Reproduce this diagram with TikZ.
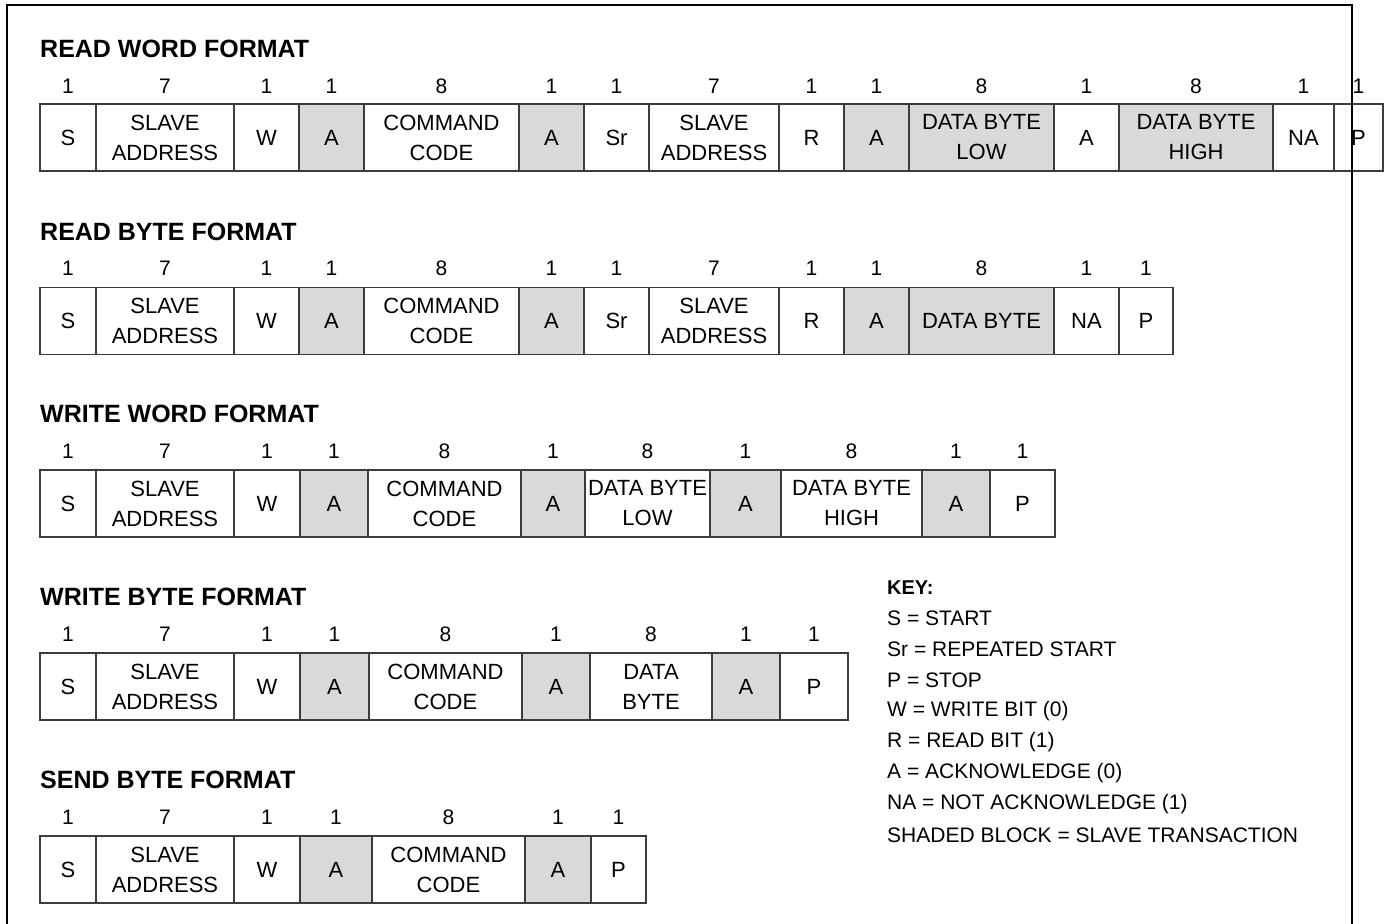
\documentclass[tikz,border=0pt]{standalone}
\usepackage{fontspec}
\setmainfont{Liberation Sans}
\definecolor{shadegray}{RGB}{217,217,217}
\definecolor{cellline}{RGB}{60,60,60}
\tikzset{
  cell/.style={draw=cellline, line width=1.3pt, inner sep=0pt, align=center,
    font=\fontsize{22}{30}\selectfont, minimum height=67pt},
  num/.style={font=\fontsize{21}{24}\selectfont, inner sep=0pt},
  title/.style={font=\bfseries\fontsize{25}{28}\selectfont, anchor=west, inner sep=0pt},
  keytext/.style={font=\fontsize{21}{24}\selectfont, anchor=west, inner sep=0pt},
  frame/.style={line width=2pt, black}
}
\newcommand\cellrow[4]{%
  \foreach \a/\b/\t/\n/\f [count=\i] in {#4} {
    \pgfmathsetmacro\w{\b-\a}
    \pgfmathsetmacro\c{(\a+\b)/2}
    \node[cell, fill=\f, minimum width=\w pt] (#1c\i) at (\c,#2) {\t};
    \node[num] (#1n\i) at (\c,#3) {\n};
  }}
\begin{document}
\begin{tikzpicture}[x=1pt,y=-1pt]
\useasboundingbox (0,0) rectangle (1393,924);
% outer frame (open at the bottom)
\coordinate (fbl) at (7,924);
\coordinate (ftl) at (7,5);
\coordinate (ftr) at (1352,5);
\coordinate (fbr) at (1352,924);
\draw[frame] (fbl) -- (ftl) -- (ftr) -- (fbr);

% READ WORD FORMAT
\node[title] (t1) at (40,49) {READ WORD FORMAT};
\cellrow{a}{137.5}{86}{40/96/S/1/white, 96/234/{SLAVE\\ADDRESS}/7/white, 234/299/W/1/white,
  299/364/A/1/shadegray, 364/519/{COMMAND\\CODE}/8/white, 519/584/A/1/shadegray,
  584/649/Sr/1/white, 649/779/{SLAVE\\ADDRESS}/7/white, 779/844/R/1/white,
  844/909/A/1/shadegray, 909/1054/{DATA BYTE\\LOW}/8/shadegray, 1054/1119/A/1/white,
  1119/1273/{DATA BYTE\\HIGH}/8/shadegray, 1273/1334/NA/1/white, 1334/1383/P/1/white}
\draw[frame] (ftr) -- (fbr);

% READ BYTE FORMAT
\node[title] (t2) at (40,232) {READ BYTE FORMAT};
\cellrow{b}{321}{268}{40/96/S/1/white, 96/234/{SLAVE\\ADDRESS}/7/white, 234/299/W/1/white,
  299/364/A/1/shadegray, 364/519/{COMMAND\\CODE}/8/white, 519/584/A/1/shadegray,
  584/649/Sr/1/white, 649/779/{SLAVE\\ADDRESS}/7/white, 779/844/R/1/white,
  844/909/A/1/shadegray, 909/1054/DATA BYTE/8/shadegray, 1054/1119/NA/1/white,
  1119/1173/P/1/white}

% WRITE WORD FORMAT
\node[title] (t3) at (40,414) {WRITE WORD FORMAT};
\cellrow{c}{503.5}{451}{40/96/S/1/white, 96/234/{SLAVE\\ADDRESS}/7/white, 234/300/W/1/white,
  300/368/A/1/shadegray, 368/521/{COMMAND\\CODE}/8/white, 521/585/A/1/shadegray,
  585/710/{DATA BYTE\\LOW}/8/white, 710/781/A/1/shadegray,
  781/922/{DATA BYTE\\HIGH}/8/white, 922/990/A/1/shadegray, 990/1055/P/1/white}

% WRITE BYTE FORMAT
\node[title] (t4) at (40,597) {WRITE BYTE FORMAT};
\cellrow{d}{686.5}{634}{40/96/S/1/white, 96/234/{SLAVE\\ADDRESS}/7/white, 234/300/W/1/white,
  300/369/A/1/shadegray, 369/522/{COMMAND\\CODE}/8/white, 522/590/A/1/shadegray,
  590/712/{DATA\\BYTE}/8/white, 712/780/A/1/shadegray, 780/848/P/1/white}

% SEND BYTE FORMAT
\node[title] (t5) at (40,780) {SEND BYTE FORMAT};
\cellrow{e}{869.5}{817}{40/96/S/1/white, 96/234/{SLAVE\\ADDRESS}/7/white, 234/300/W/1/white,
  300/372/A/1/shadegray, 372/525/{COMMAND\\CODE}/8/white, 525/591/A/1/shadegray,
  591/646/P/1/white}

% KEY
\node[keytext, font=\bfseries\fontsize{20}{24}\selectfont] (k0) at (887,588) {KEY:};
\node[keytext] (k1) at (887,618) {S = START};
\node[keytext] (k2) at (887,649) {Sr = REPEATED START};
\node[keytext] (k3) at (887,680) {P = STOP};
\node[keytext] (k4) at (887,711) {W = WRITE BIT (0)};
\node[keytext] (k5) at (887,742) {R = READ BIT (1)};
\node[keytext] (k6) at (887,773) {A = ACKNOWLEDGE (0)};
\node[keytext] (k7) at (887,804) {NA = NOT ACKNOWLEDGE (1)};
\node[keytext] (k8) at (887,835) {SHADED BLOCK = SLAVE TRANSACTION};
\end{tikzpicture}
\end{document}
